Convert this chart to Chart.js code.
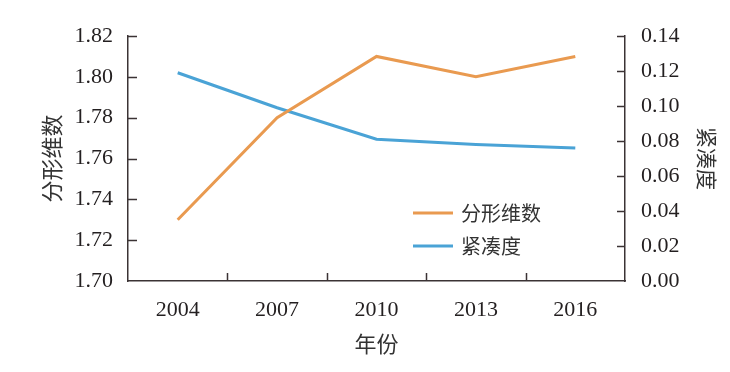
<!DOCTYPE html>
<html>
<head>
<meta charset="utf-8">
<script src="https://cdn.jsdelivr.net/npm/chart.js@4/dist/chart.umd.min.js"></script>
<style>
html,body{margin:0;padding:0;background:#fff;}
#wrap{width:730px;height:372px;}
</style>
</head>
<body>
<div id="wrap"><canvas id="c" width="730" height="372"></canvas></div>
<script>
const years = ['2004', '2007', '2010', '2013', '2016'];
const fractalDim = [1.73, 1.78, 1.81, 1.80, 1.81];
const compactness = [0.119, 0.099, 0.081, 0.078, 0.076];
const seriesNames = ['分形维数', '紧凑度'];
const xTitle = '年份';

const AXIS = '#3b3334';
const TEXT = '#231f20';
const CJK = '"Noto Sans CJK SC", "Noto Sans", sans-serif';
const SERIF = '"Liberation Serif", "DejaVu Serif", serif';
const ORANGE = '#e99a50';
const BLUE = '#4aa3d6';

const inwardTicks = {
  id: 'inwardTicks',
  afterDraw(chart) {
    const ctx = chart.ctx;
    const a = chart.chartArea;
    ctx.save();
    ctx.strokeStyle = AXIS;
    ctx.lineWidth = 1.5;
    const yl = chart.scales.y, yr = chart.scales.y1, x = chart.scales.x;
    ctx.beginPath();
    yl.ticks.forEach((t, i) => {
      const p = Math.round(yl.getPixelForTick(i)) + 0.5;
      if (Math.abs(p - a.bottom) < 2) return;
      ctx.moveTo(a.left, p); ctx.lineTo(a.left + 9, p);
    });
    yr.ticks.forEach((t, i) => {
      const p = Math.round(yr.getPixelForTick(i)) + 0.5;
      if (Math.abs(p - a.bottom) < 2) return;
      ctx.moveTo(a.right, p); ctx.lineTo(a.right - 8, p);
    });
    for (let i = 0; i < years.length - 1; i++) {
      const p = Math.round((x.getPixelForTick(i) + x.getPixelForTick(i + 1)) / 2) + 0.5;
      ctx.moveTo(p, a.bottom); ctx.lineTo(p, a.bottom - 8);
    }
    ctx.stroke();
    // legend
    const items = [[seriesNames[0], ORANGE], [seriesNames[1], BLUE]];
    ctx.font = '20px ' + CJK;
    ctx.textBaseline = 'middle';
    ctx.textAlign = 'left';
    items.forEach((it, i) => {
      const yy = a.top + 177 + i * 33;
      const x0 = a.left + 285;
      ctx.strokeStyle = it[1];
      ctx.lineWidth = 3;
      ctx.beginPath();
      ctx.moveTo(x0, yy); ctx.lineTo(x0 + 40, yy);
      ctx.stroke();
      ctx.fillStyle = '#333';
      ctx.fillText(it[0], x0 + 48, yy);
    });
    ctx.restore();
  }
};

new Chart(document.getElementById('c'), {
  type: 'line',
  data: {
    labels: years,
    datasets: [
      { label: seriesNames[0], data: fractalDim, yAxisID: 'y', borderColor: ORANGE, backgroundColor: ORANGE, borderWidth: 3, pointRadius: 0, tension: 0 },
      { label: seriesNames[1], data: compactness, yAxisID: 'y1', borderColor: BLUE, backgroundColor: BLUE, borderWidth: 3, pointRadius: 0, tension: 0 }
    ]
  },
  options: {
    responsive: false,
    animation: false,
    devicePixelRatio: 1,
    layout: { padding: { top: 36, left: 0, right: 0, bottom: 0 } },
    plugins: { legend: { display: false }, tooltip: { enabled: false } },
    scales: {
      x: {
        offset: true,
        grid: { display: false, drawTicks: false },
        border: { display: true, color: AXIS, width: 1.5 },
        ticks: { color: TEXT, font: { family: SERIF, size: 22 }, padding: 16, maxRotation: 0 },
        title: { display: true, text: xTitle, color: '#333', font: { family: CJK, size: 22 }, padding: { top: 0, bottom: 15 } },
        afterFit(s) { s.height = 91; }
      },
      y: {
        position: 'left',
        min: 1.70, max: 1.82,
        grid: { display: false, drawTicks: false },
        border: { display: true, color: AXIS, width: 1.5 },
        ticks: { stepSize: 0.02, color: TEXT, font: { family: SERIF, size: 22 }, padding: 15, callback: v => Number(v).toFixed(2) },
        title: { display: true, text: seriesNames[0], color: '#333', font: { family: CJK, size: 22 }, padding: { top: 38, bottom: 0 } },
        afterFit(s) { s.width = 128; }
      },
      y1: {
        position: 'right',
        min: 0, max: 0.14,
        grid: { display: false, drawTicks: false },
        border: { display: true, color: AXIS, width: 1.5 },
        ticks: { stepSize: 0.02, color: TEXT, font: { family: SERIF, size: 22 }, padding: 16, callback: v => Number(v).toFixed(2) },
        title: { display: true, text: seriesNames[1], color: '#333', font: { family: CJK, size: 21 }, padding: { top: 10, bottom: 0 } },
        afterFit(s) { s.width = 105; }
      }
    }
  },
  plugins: [inwardTicks]
});
</script>
</body>
</html>
